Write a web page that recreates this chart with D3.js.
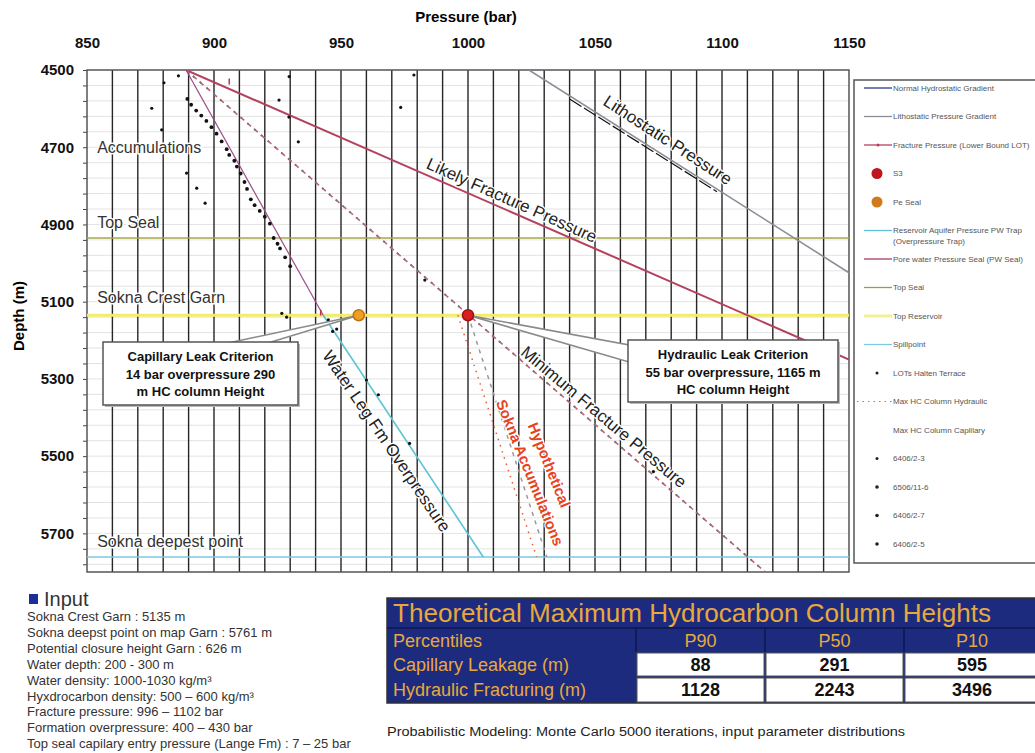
<!DOCTYPE html>
<html>
<head>
<meta charset="utf-8">
<script src="https://cdn.jsdelivr.net/npm/d3@7"></script>
<style>
body { margin: 0; background: #fff; }
svg { display: block; font-family: "Liberation Sans", Arial, sans-serif; }
</style>
</head>
<body>
<svg id="chart"></svg>
<script>
// ---- data ----
const pressureTicks = [850, 900, 950, 1000, 1050, 1100, 1150]
const depthTicks = [4500, 4700, 4900, 5100, 5300, 5500, 5700]

// [pressure bar, depth m]
const lithostatic = [[1024, 4500], [1150, 5025]]
const lithostaticData = [[1040, 4575], [1098, 4815]]
const likelyFracture = [[889, 4500], [1150, 5250]]
const minFracture = [[889, 4500], [1117, 5800]]
const poreSeal = [[889, 4500], [943, 5135]]
const waterLeg = [[943, 5135], [1006, 5761]]
const hcColumn = [[1000, 5135], [1031, 5761]]

const horizonNames = ['Top Seal', 'Top Reservoir', 'Spillpoint']
const horizonDepths = [4935, 5135, 5761]

const s3Point = [1000, 5135]
const peSealPoint = [957, 5135]
const lotPoints = [[906, 4530], [942, 5128]]

const well_6406_2_3 = [[889.5, 4575], [891, 4590], [893, 4605], [895, 4618], [897, 4632], [899, 4648],
  [901, 4665], [903, 4685], [905, 4705], [906, 4720], [908, 4735], [909, 4750], [910.5, 4768],
  [912, 4790], [913, 4808], [914.5, 4835], [916, 4850], [918, 4865], [920, 4880], [922, 4898],
  [923.5, 4935], [925, 4950], [926, 4962], [928, 4985], [930, 5008]]
const well_6506_11_6 = [[875.5, 4599], [879.4, 4655], [880.3, 4533], [889.2, 4767], [893.2, 4806],
  [896.5, 4845], [886, 4515]]
const well_6406_2_7 = [[925.6, 4578], [929.5, 4622], [929.6, 4517], [933.2, 4686], [973.5, 4597],
  [978.7, 4513], [983, 5044]]
const well_6406_2_5 = [[926.7, 5130], [928.6, 5140], [945, 5147], [946.7, 5177], [948.3, 5171],
  [960, 5303], [964.7, 5341], [977, 5467], [1073, 5540]]

const legendLabels = ['Normal Hydrostatic Gradient', 'Lithostatic Pressure Gradient',
  'Fracture Pressure (Lower Bound LOT)', 'S3', 'Pe Seal',
  'Reservoir Aquifer Pressure PW Trap|(Overpressure Trap)', 'Pore water Pressure Seal (PW Seal)',
  'Top Seal', 'Top Reservoir', 'Spillpoint', 'LOTs Halten Terrace', 'Max HC Column Hydraulic',
  'Max HC Column Capillary', '6406/2-3', '6506/11-6', '6406/2-7', '6406/2-5']

const inputLines = ['Sokna Crest Garn : 5135 m', 'Sokna deepst point on map Garn : 5761 m',
  'Potential closure height Garn : 626 m', 'Water depth: 200 - 300 m',
  'Water density: 1000-1030 kg/m³', 'Hyxdrocarbon density: 500 – 600 kg/m³',
  'Fracture pressure: 996 – 1102 bar', 'Formation overpressure: 400 – 430 bar',
  'Top seal capilary entry pressure (Lange Fm) : 7 – 25 bar']

const tableTitle = 'Theoretical Maximum Hydrocarbon Column Heights'
const tableHeader = ['Percentiles', 'P90', 'P50', 'P10']
const tableRowNames = ['Capillary Leakage (m)', 'Hydraulic Fracturing (m)']
const capillaryValues = [88, 291, 595]
const hydraulicValues = [1128, 2243, 3496]

// ---- layout ----
const width = 1035
const height = 753
const plot = { left: 87, right: 849, top: 70, bottom: 572 }

const svg = d3.select('#chart').attr('width', width).attr('height', height)

const x = d3.scaleLinear().domain([850, 1150]).range([plot.left, plot.right])
const y = d3.scaleLinear().domain([4500, 5800]).range([plot.top, plot.bottom])
const line = d3.line().x(d => x(d[0])).y(d => y(d[1]))

svg.append('clipPath').attr('id', 'clip')
  .append('rect')
  .attr('x', plot.left).attr('y', plot.top)
  .attr('width', plot.right - plot.left).attr('height', plot.bottom - plot.top)

// faint horizontal grid
svg.append('g').selectAll('line')
  .data(d3.range(4540, 5800, 40))
  .enter().append('line')
  .attr('x1', plot.left).attr('x2', plot.right)
  .attr('y1', d => y(d)).attr('y2', d => y(d))
  .attr('stroke', '#e3e3e3').attr('stroke-width', 1)

// vertical grid every 10 bar
svg.append('g').selectAll('line')
  .data(d3.range(860, 1150, 10))
  .enter().append('line')
  .attr('y1', plot.top).attr('y2', plot.bottom)
  .attr('x1', d => x(d)).attr('x2', d => x(d))
  .attr('stroke', '#262626').attr('stroke-width', 1.4)

// axes
const xAxis = d3.axisTop(x).tickValues(pressureTicks).tickSize(0).tickPadding(22).tickFormat(d3.format('d'))
svg.append('g')
  .attr('transform', `translate(0, ${plot.top})`)
  .call(xAxis)
  .call(g => g.select('.domain').remove())
  .selectAll('text')
  .attr('font-size', 15).attr('font-weight', 'bold').attr('fill', '#111')
  .attr('font-family', '"Liberation Sans", Arial, sans-serif')

const yAxis = d3.axisLeft(y).tickValues(d3.range(4500, 5801, 40)).tickSize(4)
  .tickFormat(d => depthTicks.includes(d) ? d : '')
svg.append('g')
  .attr('transform', `translate(${plot.left}, 0)`)
  .call(yAxis)
  .call(g => g.select('.domain').remove())
  .call(g => g.selectAll('line').attr('stroke', '#444'))
  .selectAll('text')
  .attr('font-size', 15).attr('font-weight', 'bold').attr('fill', '#111').attr('dx', -6)
  .attr('font-family', '"Liberation Sans", Arial, sans-serif')

svg.append('text')
  .attr('x', 466).attr('y', 22)
  .attr('text-anchor', 'middle').attr('font-size', 15).attr('font-weight', 'bold')
  .text('Pressure (bar)')
svg.append('text')
  .attr('transform', 'translate(24, 316) rotate(-90)')
  .attr('text-anchor', 'middle').attr('font-size', 15).attr('font-weight', 'bold')
  .text('Depth (m)')

// plot frame
svg.append('rect')
  .attr('x', plot.left).attr('y', plot.top)
  .attr('width', plot.right - plot.left).attr('height', plot.bottom - plot.top)
  .attr('fill', 'none').attr('stroke', '#555').attr('stroke-width', 1.5)

const marks = svg.append('g').attr('clip-path', 'url(#clip)')

// horizons
const horizonStyle = {
  'Top Seal': { color: '#a6a845', w: 1.6 },
  'Top Reservoir': { color: '#f2ec6a', w: 3 },
  'Spillpoint': { color: '#7ec8e2', w: 1.6 }
}
marks.selectAll('.horizon')
  .data(horizonNames)
  .enter().append('line')
  .attr('class', 'horizon')
  .attr('x1', plot.left).attr('x2', plot.right)
  .attr('y1', (d, i) => y(horizonDepths[i])).attr('y2', (d, i) => y(horizonDepths[i]))
  .attr('stroke', d => horizonStyle[d].color).attr('stroke-width', d => horizonStyle[d].w)

// pressure lines
marks.append('path').datum(lithostatic).attr('d', line)
  .attr('fill', 'none').attr('stroke', '#8d8d98').attr('stroke-width', 1.6)
marks.append('path').datum(lithostaticData).attr('d', line)
  .attr('fill', 'none').attr('stroke', '#111').attr('stroke-width', 1.2).attr('stroke-dasharray', '14,3')
marks.append('path').datum(likelyFracture).attr('d', line)
  .attr('fill', 'none').attr('stroke', '#b3425e').attr('stroke-width', 2)
marks.append('path').datum(minFracture).attr('d', line)
  .attr('fill', 'none').attr('stroke', '#c4607a').attr('stroke-width', 1.6).attr('stroke-dasharray', '5,4')
marks.append('path').datum(minFracture).attr('d', line)
  .attr('fill', 'none').attr('stroke', '#777').attr('stroke-width', 1.8).attr('stroke-dasharray', '2,7')
marks.append('path').datum(poreSeal).attr('d', line)
  .attr('fill', 'none').attr('stroke', '#9c4d86').attr('stroke-width', 1.2)
marks.append('path').datum(waterLeg).attr('d', line)
  .attr('fill', 'none').attr('stroke', '#5cc4d4').attr('stroke-width', 1.6)
marks.append('path').datum(hcColumn).attr('d', line)
  .attr('fill', 'none').attr('stroke', '#999').attr('stroke-width', 1.5).attr('stroke-dasharray', '4,5')
marks.append('path').datum(hcColumn.map(d => [d[0] - 4, d[1]])).attr('d', line)
  .attr('fill', 'none').attr('stroke', '#e0603a').attr('stroke-width', 1.5).attr('stroke-dasharray', '1.5,5')

// well data
const wells = [well_6406_2_3, well_6506_11_6, well_6406_2_7, well_6406_2_5]
wells.forEach((pts, i) => {
  marks.append('g').selectAll('circle')
    .data(pts)
    .enter().append('circle')
    .attr('cx', d => x(d[0])).attr('cy', d => y(d[1]))
    .attr('r', i === 0 ? 1.9 : 1.6)
    .attr('fill', '#111')
})
marks.append('g').selectAll('line')
  .data(lotPoints)
  .enter().append('line')
  .attr('x1', d => x(d[0])).attr('x2', d => x(d[0]))
  .attr('y1', d => y(d[1]) - 3).attr('y2', d => y(d[1]) + 3)
  .attr('stroke', '#c03050').attr('stroke-width', 1.5)

// rotated line labels
const rotLabels = [
  { t: 'Lithostatic Pressure', p: 1078.7, d: 4681, a: 33, c: '#222', s: 17, b: 'normal' },
  { t: 'Likely Fracture Pressure', p: 1017.3, d: 4837, a: 24, c: '#222', s: 17, b: 'normal' },
  { t: 'Minimum Fracture Pressure', p: 1053.5, d: 5398, a: 40, c: '#222', s: 17, b: 'normal' },
  { t: 'Water Leg Fm Overpressure', p: 968, d: 5461, a: 56, c: '#222', s: 17, b: 'normal' },
  { t: 'Hypothetical', p: 1032, d: 5523, a: 68, c: '#e8421e', s: 15, b: 'bold' },
  { t: 'Sokna Accumulations', p: 1024.4, d: 5543, a: 68, c: '#e8421e', s: 15, b: 'bold' }
]
svg.append('g').selectAll('text')
  .data(rotLabels)
  .enter().append('text')
  .attr('transform', d => `translate(${x(d.p)}, ${y(d.d)}) rotate(${d.a})`)
  .attr('text-anchor', 'middle').attr('dy', '0.35em')
  .attr('font-size', d => d.s).attr('font-weight', d => d.b).attr('fill', d => d.c)
  .attr('stroke', '#fff').attr('stroke-width', 2.5).attr('paint-order', 'stroke')
  .text(d => d.t)

// left horizon labels
const leftLabels = [['Accumulations', 4700], ['Top Seal', 4895], ['Sokna Crest Garn', 5090], ['Sokna deepest point', 5720]]
svg.append('g').selectAll('text')
  .data(leftLabels)
  .enter().append('text')
  .attr('x', x(854)).attr('y', d => y(d[1])).attr('dy', '0.35em')
  .attr('font-size', 16).attr('fill', '#333')
  .attr('stroke', '#fff').attr('stroke-width', 3).attr('paint-order', 'stroke')
  .text(d => d[0])

// callouts
const drawCallout = (pt, box, base, lines, color) => {
  const px = x(pt[0]), py = y(pt[1])
  svg.append('polygon')
    .attr('points', [[px, py], base[0], base[1]].map(p => p.join(',')).join(' '))
    .attr('fill', '#fff').attr('stroke', '#8a8a8a').attr('stroke-width', 1.6)
  svg.append('rect')
    .attr('x', box.x + 2).attr('y', box.y + 2).attr('width', box.w).attr('height', box.h)
    .attr('fill', '#bbb')
  svg.append('rect')
    .attr('x', box.x).attr('y', box.y).attr('width', box.w).attr('height', box.h)
    .attr('fill', '#fff').attr('stroke', '#555').attr('stroke-width', 1.5)
  svg.append('g').selectAll('text')
    .data(lines)
    .enter().append('text')
    .attr('x', box.x + box.w / 2).attr('y', (d, i) => box.y + 19 + i * 17.5)
    .attr('text-anchor', 'middle').attr('font-size', 13).attr('font-weight', 'bold').attr('fill', '#111')
    .text(d => d)
  svg.append('circle')
    .attr('cx', px).attr('cy', py).attr('r', 5.5)
    .attr('fill', color.fill).attr('stroke', color.stroke).attr('stroke-width', 1.5)
}
drawCallout(peSealPoint, { x: 103, y: 342, w: 195, h: 63 }, [[228, 343], [268, 343]],
  ['Capillary Leak  Criterion', '14 bar overpressure 290', 'm HC column Height'],
  { fill: '#f0a020', stroke: '#c07010' })
drawCallout(s3Point, { x: 628, y: 340, w: 210, h: 62 }, [[629, 345], [629, 362]],
  ['Hydraulic Leak Criterion', '55 bar overpressure, 1165 m', 'HC column Height'],
  { fill: '#d81e1e', stroke: '#a01010' })

// legend
const legend = svg.append('g')
legend.append('rect')
  .attr('x', 854).attr('y', 80).attr('width', 200).attr('height', 483)
  .attr('fill', '#fff').attr('stroke', '#555').attr('stroke-width', 1.5)
const legendSymbols = [
  { type: 'line', color: '#2a3a8a' }, { type: 'line', color: '#8d8d98' },
  { type: 'lineMarker', color: '#b3425e' }, { type: 'dot', color: '#c0141e', r: 5.5 },
  { type: 'dot', color: '#d07a1c', r: 5.5 }, { type: 'line', color: '#5cc4d4' },
  { type: 'line', color: '#b03a5a' }, { type: 'line', color: '#9aa040' },
  { type: 'thick', color: '#f2f090' }, { type: 'line', color: '#7ec8e2' },
  { type: 'dot', color: '#222', r: 1.5 }, { type: 'dotted', color: '#888' },
  { type: 'none' }, { type: 'dot', color: '#222', r: 1.5 }, { type: 'dot', color: '#222', r: 1.8 },
  { type: 'dot', color: '#222', r: 1.8 }, { type: 'dot', color: '#222', r: 1.8 }
]
const item = legend.selectAll('.item')
  .data(legendLabels)
  .enter().append('g')
  .attr('class', 'item')
  .attr('transform', (d, i) => `translate(0, ${88 + i * 28.5})`)
item.each(function (d, i) {
  const g = d3.select(this)
  const s = legendSymbols[i]
  if (s.type === 'line' || s.type === 'lineMarker' || s.type === 'thick') {
    g.append('line').attr('x1', 864).attr('x2', 892).attr('y1', 0).attr('y2', 0)
      .attr('stroke', s.color).attr('stroke-width', s.type === 'thick' ? 3 : 1.3)
    if (s.type === 'lineMarker') {
      g.append('circle').attr('cx', 878).attr('cy', 0).attr('r', 1.5).attr('fill', s.color)
    }
  } else if (s.type === 'dotted') {
    g.append('line').attr('x1', 857).attr('x2', 892).attr('y1', 0).attr('y2', 0)
      .attr('stroke', s.color).attr('stroke-width', 1.2).attr('stroke-dasharray', '1.5,4')
  } else if (s.type === 'dot') {
    g.append('circle').attr('cx', 877).attr('cy', 0).attr('r', s.r).attr('fill', s.color)
  }
  const parts = d.split('|')
  g.selectAll('text')
    .data(parts)
    .enter().append('text')
    .attr('x', 893).attr('y', (t, j) => j * 11).attr('dy', '0.35em')
    .attr('font-size', 8).attr('fill', '#555')
    .text(t => t)
})

// input block
svg.append('rect').attr('x', 29).attr('y', 594).attr('width', 9).attr('height', 10).attr('fill', '#1c2d98')
svg.append('text').attr('x', 44).attr('y', 606).attr('font-size', 20).attr('fill', '#333').text('Input')
svg.append('g').selectAll('text')
  .data(inputLines)
  .enter().append('text')
  .attr('x', 27).attr('y', (d, i) => 621 + i * 15.9)
  .attr('font-size', 13).attr('fill', '#333')
  .text(d => d)

// table
const colEdges = [387, 636, 765, 904, 1040]
const rowEdges = [598, 628, 652, 677, 703]
const table = svg.append('g')
table.append('rect')
  .attr('x', colEdges[0]).attr('y', rowEdges[0])
  .attr('width', colEdges[4] - colEdges[0]).attr('height', rowEdges[4] - rowEdges[0])
  .attr('fill', '#1c2b7e').attr('stroke', '#333').attr('stroke-width', 1.5)
table.append('text')
  .attr('x', 393).attr('y', 622).attr('font-size', 25).attr('fill', '#e8a83c')
  .attr('textLength', 598).attr('lengthAdjust', 'spacingAndGlyphs')
  .text(tableTitle)
table.append('line')
  .attr('x1', colEdges[0]).attr('x2', colEdges[4]).attr('y1', rowEdges[1]).attr('y2', rowEdges[1])
  .attr('stroke', '#0e1650').attr('stroke-width', 1.5)
table.selectAll('.hdr')
  .data(tableHeader)
  .enter().append('text')
  .attr('x', (d, i) => i === 0 ? 393 : (colEdges[i] + colEdges[i + 1]) / 2)
  .attr('y', 647).attr('font-size', 18).attr('fill', '#e8a83c')
  .attr('text-anchor', (d, i) => i === 0 ? 'start' : 'middle')
  .text(d => d)
table.selectAll('.hdrsep')
  .data([1, 2, 3])
  .enter().append('line')
  .attr('x1', d => colEdges[d]).attr('x2', d => colEdges[d])
  .attr('y1', rowEdges[1]).attr('y2', rowEdges[2])
  .attr('stroke', '#0e1650').attr('stroke-width', 1.5)
const valueRows = [capillaryValues, hydraulicValues]
valueRows.forEach((vals, r) => {
  table.append('text')
    .attr('x', 393).attr('y', rowEdges[r + 2] + 19).attr('font-size', 18).attr('fill', '#e8a83c')
    .text(tableRowNames[r])
  table.selectAll('.cell' + r)
    .data(vals)
    .enter().append('rect')
    .attr('x', (d, i) => colEdges[i + 1] + 1).attr('y', rowEdges[r + 2] + 1)
    .attr('width', (d, i) => colEdges[i + 2] - colEdges[i + 1] - 2)
    .attr('height', rowEdges[r + 3] - rowEdges[r + 2] - 2)
    .attr('fill', '#fff').attr('stroke', '#555').attr('stroke-width', 1)
  table.selectAll('.val' + r)
    .data(vals)
    .enter().append('text')
    .attr('x', (d, i) => (colEdges[i + 1] + colEdges[i + 2]) / 2)
    .attr('y', rowEdges[r + 2] + 19)
    .attr('text-anchor', 'middle').attr('font-size', 18).attr('font-weight', 'bold').attr('fill', '#111')
    .text(d => d)
})

svg.append('text')
  .attr('x', 387).attr('y', 736).attr('font-size', 12.5).attr('fill', '#222')
  .attr('textLength', 518).attr('lengthAdjust', 'spacingAndGlyphs')
  .text('Probabilistic Modeling: Monte Carlo 5000 iterations, input parameter distributions')
</script>
</body>
</html>
